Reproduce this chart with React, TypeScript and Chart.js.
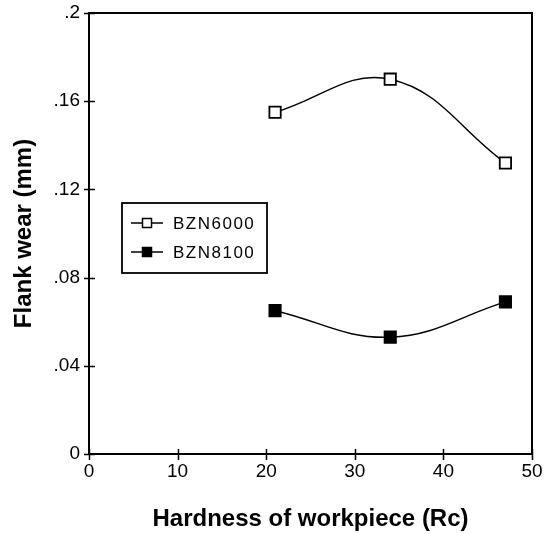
import React, { useEffect, useRef } from "react";
import { Chart, registerables } from "chart.js";

Chart.register(...registerables);

// Workpiece hardness (Rc) at which each tool grade was tested
const hardness = [21, 34, 47];
// Flank wear (mm) for each grade
const wearBZN6000 = [0.155, 0.17, 0.132];
const wearBZN8100 = [0.065, 0.053, 0.069];
const seriesNames = ["BZN6000", "BZN8100"];

const xRange = [0, 50];
const xStep = 10;
const yRange = [0, 0.2];
const yStep = 0.04;

const FAMILY = "'Liberation Sans', Arial, Helvetica, sans-serif";

const formatWear = (v: number) => {
  if (Math.abs(v) < 1e-9) return "0";
  return String(+v.toFixed(2)).replace(/^0/, "");
};

// Box around the plot area plus tick marks that cross the left and bottom axes
const framePlugin = {
  id: "frame",
  beforeDatasetsDraw(chart: any) {
    const { ctx, chartArea } = chart;
    const { left, right, top, bottom } = chartArea;
    ctx.save();
    ctx.strokeStyle = "#000";
    ctx.lineWidth = 2;
    ctx.strokeRect(left, top, right - left, bottom - top);
    ctx.lineWidth = 1.5;
    const ys = chart.scales.y;
    ys.ticks.forEach((t: any) => {
      const py = Math.round(ys.getPixelForValue(t.value)) + 0.5;
      ctx.beginPath();
      ctx.moveTo(left - 5, py);
      ctx.lineTo(left + 6, py);
      ctx.stroke();
    });
    const xs = chart.scales.x;
    xs.ticks.forEach((t: any) => {
      const px = Math.round(xs.getPixelForValue(t.value)) + 0.5;
      ctx.beginPath();
      ctx.moveTo(px, bottom - 5);
      ctx.lineTo(px, bottom + 6);
      ctx.stroke();
    });
    ctx.restore();
  },
};

// Boxed legend drawn inside the plot area
const boxLegendPlugin = {
  id: "boxLegend",
  afterDatasetsDraw(chart: any) {
    const { ctx, chartArea } = chart;
    const bx = chartArea.left + 33;
    const by = chartArea.top + 190;
    const bw = 145;
    const bh = 70;
    ctx.save();
    ctx.fillStyle = "#fff";
    ctx.fillRect(bx, by, bw, bh);
    ctx.strokeStyle = "#000";
    ctx.lineWidth = 1.8;
    ctx.strokeRect(bx, by, bw, bh);
    const rows = [by + 20, by + 49];
    chart.data.datasets.forEach((ds: any, i: number) => {
      const cy = rows[i];
      ctx.lineWidth = 1.5;
      ctx.strokeStyle = "#000";
      ctx.beginPath();
      ctx.moveTo(bx + 9, cy);
      ctx.lineTo(bx + 41, cy);
      ctx.stroke();
      const s = 9;
      const mx = bx + 25;
      ctx.fillStyle = ds.pointBackgroundColor;
      ctx.fillRect(mx - s / 2, cy - s / 2, s, s);
      ctx.lineWidth = 1.5;
      ctx.strokeRect(mx - s / 2, cy - s / 2, s, s);
      ctx.fillStyle = "#000";
      ctx.font = `17px ${FAMILY}`;
      (ctx as any).letterSpacing = "1.5px";
      ctx.textAlign = "left";
      ctx.textBaseline = "middle";
      ctx.fillText(ds.label, bx + 51, cy + 1);
      (ctx as any).letterSpacing = "0px";
    });
    ctx.restore();
  },
};

export default function App() {
  const canvasRef = useRef<HTMLCanvasElement | null>(null);

  useEffect(() => {
    const canvas = canvasRef.current;
    if (!canvas) return;
    const toPoints = (ys: number[]) => hardness.map((x, i) => ({ x, y: ys[i] }));
    const chart = new Chart(canvas, {
      type: "line",
      data: {
        datasets: [
          {
            label: seriesNames[0],
            data: toPoints(wearBZN6000),
            borderColor: "#000",
            borderWidth: 1.5,
            tension: 0.4,
            pointStyle: "rect",
            pointRadius: 8,
            pointBorderWidth: 1.8,
            pointBorderColor: "#000",
            pointBackgroundColor: "#fff",
            fill: false,
          },
          {
            label: seriesNames[1],
            data: toPoints(wearBZN8100),
            borderColor: "#000",
            borderWidth: 1.5,
            tension: 0.4,
            pointStyle: "rect",
            pointRadius: 8,
            pointBorderWidth: 1.8,
            pointBorderColor: "#000",
            pointBackgroundColor: "#000",
            fill: false,
          },
        ],
      },
      options: {
        responsive: false,
        animation: false,
        layout: { padding: { top: 13, right: 24, left: 0, bottom: 0 } },
        plugins: {
          legend: { display: false },
          tooltip: { enabled: false },
        },
        scales: {
          x: {
            type: "linear",
            min: xRange[0],
            max: xRange[1],
            grid: { display: false, drawTicks: false },
            border: { display: false },
            ticks: {
              stepSize: xStep,
              color: "#000",
              padding: 6,
              font: { family: FAMILY, size: 19 },
            },
            title: {
              display: true,
              text: "Hardness of workpiece (Rc)",
              color: "#000",
              font: { family: FAMILY, size: 24, weight: "bold" },
              padding: { top: 0, bottom: 0 },
            },
            afterFit: (s: any) => {
              s.height = 80;
              s.paddingLeft = 0;
              s.paddingRight = 0;
            },
          },
          y: {
            type: "linear",
            min: yRange[0],
            max: yRange[1],
            grid: { display: false, drawTicks: false },
            border: { display: false },
            ticks: {
              stepSize: yStep,
              color: "#000",
              padding: 9,
              font: { family: FAMILY, size: 19 },
              callback: (v: any) => formatWear(Number(v)),
            },
            title: {
              display: true,
              text: "Flank wear (mm)",
              color: "#000",
              font: { family: FAMILY, size: 24, weight: "bold" },
              padding: { top: 10, bottom: 0 },
            },
            afterFit: (s: any) => {
              s.width = 89;
              s.paddingTop = 0;
              s.paddingBottom = 0;
            },
          },
        },
      } as any,
      plugins: [framePlugin, boxLegendPlugin],
    });
    return () => chart.destroy();
  }, []);

  return (
    <div style={{ position: "absolute", left: 0, top: 0, width: 556, height: 534, background: "#fff" }}>
      <canvas ref={canvasRef} width={556} height={534} />
    </div>
  );
}
